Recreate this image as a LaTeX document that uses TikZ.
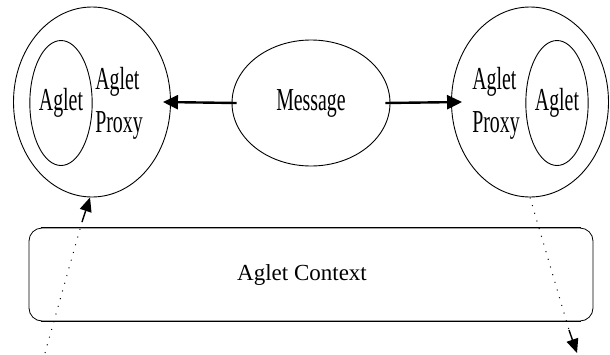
\documentclass[tikz,border=0pt]{standalone}
\usepackage{fontspec}
\setmainfont{Liberation Serif}
\newfontfamily\narrowserif[FakeStretch=0.62]{Liberation Serif}
\usetikzlibrary{shapes.geometric,arrows.meta}

\begin{document}
\begin{tikzpicture}[x=1pt,y=-1pt,
  ring/.style={draw, ellipse, line width=0.9pt, inner sep=0pt},
  lbl/.style={font=\narrowserif\fontsize{32}{43}\selectfont, inner sep=0pt, align=left},
  msgarrow/.style={line width=2.4pt, -{Triangle[length=15pt,width=14pt]}},
  dotline/.style={line width=1pt, dash pattern=on 1pt off 7pt},
  tiparrow/.style={line width=1.4pt, -{Triangle[length=14pt,width=12pt]}},
  ctxbox/.style={draw, rectangle, line width=0.8pt, rounded corners=13pt,
    minimum width=564pt, minimum height=93pt}]
\useasboundingbox (0,0) rectangle (610,354);

% agents with their proxies
\node[ring, minimum width=157pt, minimum height=190pt] (leftOuter) at (92,102) {};
\node[ring, minimum width=62pt, minimum height=125pt, lbl] (leftInner) at (61,103) {Aglet};
\node[lbl] (leftProxy) at (119,103) {Aglet\\Proxy};

\node[ring, minimum width=157pt, minimum height=190pt] (rightOuter) at (530,102) {};
\node[ring, minimum width=54pt, minimum height=125pt, lbl] (rightInner) at (557,103) {Aglet};
\node[lbl] (rightProxy) at (496,103) {Aglet\\Proxy};

% message in the middle
\node[ring, minimum width=158pt, minimum height=126pt, lbl] (msg) at (311,103) {Message};

\draw[msgarrow] ([xshift=5pt]msg.west) -- ([xshift=-8pt]leftOuter.east);
\draw[msgarrow] ([xshift=-5pt]msg.east) -- ([xshift=11pt]rightOuter.west);

% context
\node[ctxbox, label={[xshift=-9pt, font=\fontsize{23}{28}\selectfont]center:Aglet Context}] (ctx) at (311,274.5) {};
\draw[line width=1.4pt] ([xshift=12pt]ctx.north west) -- ([xshift=-12pt]ctx.north east);
\draw[line width=1.4pt] ([xshift=12pt]ctx.south west) -- ([xshift=-12pt]ctx.south east);

% dispatch and arrival
\coordinate (lfoot) at (45,353);
\coordinate (lstub) at (82,222);
\draw[dotline] (lfoot) -- (lstub);
\draw[tiparrow] (lstub) -- ([xshift=-2pt]leftOuter.south);

\coordinate (rstub) at (569,330);
\coordinate (rtip) at (577,353);
\draw[dotline] (rightOuter.south) -- (rstub);
\draw[tiparrow] (rstub) -- (rtip);
\end{tikzpicture}
\end{document}
